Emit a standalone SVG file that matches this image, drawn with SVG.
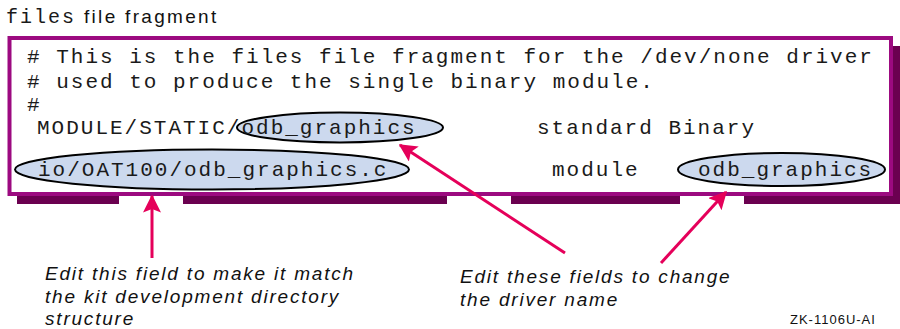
<svg xmlns="http://www.w3.org/2000/svg" width="900" height="329" viewBox="0 0 900 329">
<style>
.mono{font-family:"Liberation Mono","Courier New",monospace;font-size:21px;letter-spacing:2px;fill:#1a1a1a}
.sans{font-family:"Liberation Sans",Arial,sans-serif;font-size:19px;letter-spacing:2.3px;fill:#111}
.note{font-family:"Liberation Sans",Arial,sans-serif;font-size:19px;font-style:italic;letter-spacing:1.8px;fill:#111}
.shadow{fill:#6b0050}
.oval{fill:#ccd9ee;stroke:#000;stroke-width:2}
.arrow{stroke:#e5005a;stroke-width:3;fill:none;marker-end:url(#ah)}
</style>
<defs>
<marker id="ah" markerWidth="6" markerHeight="6" refX="5.5" refY="3" orient="auto" markerUnits="strokeWidth">
<path d="M0,0 L6,3 L0,6 L1.2,3 Z" fill="#e5005a"/>
</marker>
</defs>
<rect width="900" height="329" fill="#fff"/>
<g id="title">
<text x="6" y="23"><tspan class="mono" style="font-size:20px;letter-spacing:2px">files</tspan><tspan class="sans" dx="8">file fragment</tspan></text>
</g>
<g id="frame">
<rect x="893" y="46" width="7" height="158" class="shadow"/>
<rect x="17" y="196" width="102" height="8" class="shadow"/>
<rect x="183" y="196" width="264" height="8" class="shadow"/>
<rect x="511" y="196" width="169" height="8" class="shadow"/>
<rect x="744" y="196" width="156" height="8" class="shadow"/>
<rect x="9.5" y="38" width="881.5" height="156" fill="#fff" stroke="#9c0a80" stroke-width="4"/>
</g>
<g id="code">
<text class="mono" x="27" y="63"># This is the files file fragment for the /dev/none driver</text>
<text class="mono" x="27" y="88"># used to produce the single binary module.</text>
<text class="mono" x="27" y="111">#</text>
</g>
<g id="field-module-name">
<ellipse class="oval" cx="340" cy="127.5" rx="103" ry="15"/>
</g>
<g id="field-path">
<ellipse class="oval" cx="212" cy="169.5" rx="197" ry="20"/>
</g>
<g id="field-driver-name">
<ellipse class="oval" cx="781.5" cy="169.5" rx="103.5" ry="16.5"/>
</g>
<g id="code-lines">
<text class="mono" x="37" y="134">MODULE/STATIC/odb_graphics</text>
<text class="mono" x="537" y="134">standard Binary</text>
<text class="mono" x="38" y="176">io/OAT100/odb_graphics.c</text>
<text class="mono" x="552" y="176">module</text>
<text class="mono" x="698" y="176">odb_graphics</text>
</g>
<g id="connectors">
<line class="arrow" x1="152" y1="258" x2="152" y2="196"/>
<line class="arrow" x1="565" y1="253" x2="400" y2="145"/>
<line class="arrow" x1="661" y1="263" x2="726" y2="192"/>
</g>
<g id="note-path">
<text class="note" x="45" y="280">Edit this field to make it match</text>
<text class="note" x="45" y="303">the kit development directory</text>
<text class="note" x="45" y="325">structure</text>
</g>
<g id="note-name">
<text class="note" x="460" y="283">Edit these fields to change</text>
<text class="note" x="460" y="306">the driver name</text>
</g>
<g id="figure-id">
<text class="sans" x="790" y="324" style="font-size:13px;letter-spacing:1px">ZK-1106U-AI</text>
</g>
</svg>
